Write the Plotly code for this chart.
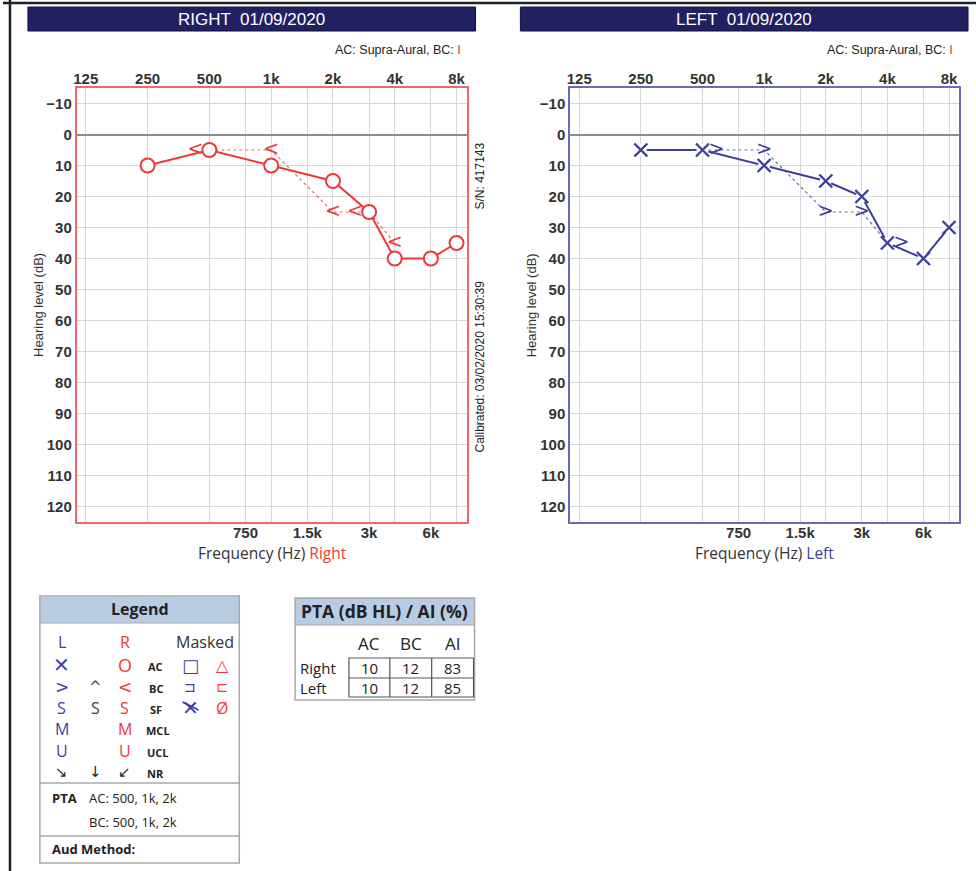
import math
import plotly.graph_objects as go

# ---------------- data ----------------
FREQ_OCT = [125, 250, 500, 1000, 2000, 4000, 8000]
FREQ_OCT_LABELS = ["125", "250", "500", "1k", "2k", "4k", "8k"]
FREQ_MID = [750, 1500, 3000, 6000]
FREQ_MID_LABELS = ["750", "1.5k", "3k", "6k"]
DB_TICKS = list(range(-10, 130, 10))

AC_FREQ = [250, 500, 1000, 2000, 3000, 4000, 6000, 8000]
RIGHT_AC = [10, 5, 10, 15, 25, 40, 40, 35]
LEFT_AC = [5, 5, 10, 15, 20, 35, 40, 30]

BC_FREQ = [500, 1000, 2000, 3000, 4000]
RIGHT_BC = [5, 5, 25, 25, 35]
LEFT_BC = [5, 5, 25, 25, 35]

PTA_COLS = ["AC", "BC", "AI"]
PTA_ROWS = ["Right", "Left"]
PTA_VALUES = [[10, 12, 83], [10, 12, 85]]

TEST_DATE = "01/09/2020"
SERIAL = "S/N: 417143"
CALIBRATED = "Calibrated: 03/02/2020 15:30:39"

# ---------------- styles ----------------
W, H = 976, 871
RED = "#ec3a3a"
RED_BORDER = "#f26868"
BLUE = "#3f3f9c"
BLUE_BORDER = "#6a6ab8"
NAVY = "#212161"
GRID = "#d6d6d6"
ZERO = "#8c8c8c"
TXT = "#333333"
HEAD_FILL = "#b8cce4"
BOX_LINE = "#a9a9a9"
TICK_FONT = dict(family="Liberation Sans, Arial", size=15, color=TXT, weight="bold")
UI = "Open Sans, Noto Sans, sans-serif"
ARIAL = "Liberation Sans, Arial"
GAP = "\u00a0"


def px(x):
    return x / W


def py(y):
    return 1 - y / H


XRANGE = [2.053, 3.952]
YRANGE = [125, -15]

fig = go.Figure()


def add_ear(n, ac, bc, color, border, bc_glyph, bc_side, xl, xr, is_x):
    xa = "x" if n == 0 else "x3"
    xt = "x2" if n == 0 else "x4"
    ya = "y" if n == 0 else "y2"
    # bone conduction dotted connection (bottom-axis subplot)
    fig.add_trace(go.Scatter(x=BC_FREQ, y=bc, mode="lines", xaxis=xa, yaxis=ya,
                             line=dict(color=color, width=1.2, dash="dot"),
                             opacity=0.75, hoverinfo="skip"))
    # bone conduction symbols; shifted aside when they coincide with the AC symbol
    ac_map = dict(zip(AC_FREQ, ac))
    shifted = [ac_map.get(f) == v for f, v in zip(BC_FREQ, bc)]
    pos = [bc_side if s else "middle center" for s in shifted]
    if bc_side == "middle left":
        txt = [bc_glyph + GAP if s else bc_glyph for s in shifted]
    else:
        txt = [GAP + bc_glyph if s else bc_glyph for s in shifted]
    fig.add_trace(go.Scatter(x=BC_FREQ, y=bc, mode="text", xaxis=xa, yaxis=ya,
                             text=txt, textposition=pos,
                             textfont=dict(family="DejaVu Sans", size=19, color=color),
                             hoverinfo="skip"))
    # air conduction (top-axis subplot, drawn above)
    fig.add_trace(go.Scatter(x=AC_FREQ, y=ac, mode="lines", xaxis=xt, yaxis=ya,
                             line=dict(color=color, width=2), hoverinfo="skip"))
    if is_x:
        fig.add_trace(go.Scatter(x=AC_FREQ, y=ac, mode="markers", xaxis=xt, yaxis=ya,
                                 marker=dict(symbol="circle", size=12, color="white",
                                             line=dict(width=0)), hoverinfo="skip"))
        fig.add_trace(go.Scatter(x=AC_FREQ, y=ac, mode="markers", xaxis=xt, yaxis=ya,
                                 marker=dict(symbol="x-thin", size=13, color=color,
                                             line=dict(width=2.4, color=color)),
                                 hoverinfo="skip"))
    else:
        fig.add_trace(go.Scatter(x=AC_FREQ, y=ac, mode="markers", xaxis=xt, yaxis=ya,
                                 marker=dict(symbol="circle", size=14, color="white",
                                             line=dict(width=2, color=color)),
                                 hoverinfo="skip"))
    # axes
    dom_x = [px(xl), px(xr)]
    dom_y = [py(522), py(88)]
    xkey = "xaxis" if n == 0 else "xaxis3"
    tkey = "xaxis2" if n == 0 else "xaxis4"
    ykey = "yaxis" if n == 0 else "yaxis2"
    fig.layout[xkey] = dict(type="log", range=XRANGE, domain=dom_x, anchor=ya,
                            tickvals=FREQ_MID, ticktext=FREQ_MID_LABELS, tickfont=TICK_FONT,
                            ticklabelstandoff=-4,
                            showgrid=True, gridcolor=GRID, gridwidth=1,
                            showline=True, linecolor=border, linewidth=2, mirror=True,
                            ticks="", zeroline=False, fixedrange=True)
    fig.layout[tkey] = dict(type="log", range=XRANGE, domain=dom_x, anchor=ya,
                            overlaying=xa, side="top",
                            tickvals=FREQ_OCT, ticktext=FREQ_OCT_LABELS, tickfont=TICK_FONT,
                            showgrid=True, gridcolor=GRID, gridwidth=1,
                            showline=False, ticks="", zeroline=False, fixedrange=True)
    fig.layout[ykey] = dict(range=YRANGE, domain=dom_y, anchor=xa,
                            tickvals=DB_TICKS, tickfont=TICK_FONT,
                            showgrid=True, gridcolor=GRID, gridwidth=1,
                            zeroline=True, zerolinecolor=ZERO, zerolinewidth=1.5,
                            showline=True, linecolor=border, linewidth=2, mirror=True,
                            ticks="", fixedrange=True)


add_ear(0, RIGHT_AC, RIGHT_BC, RED, RED_BORDER, "<", "middle left", 74, 465, False)
add_ear(1, LEFT_AC, LEFT_BC, BLUE, BLUE_BORDER, ">", "middle right", 569, 959, True)

shapes = []
ann = []


def rect(x0, y0, x1, y1, fill=None, line=None, lw=1):
    shapes.append(dict(type="rect", xref="paper", yref="paper",
                       x0=px(x0), x1=px(x1), y0=py(y1), y1=py(y0),
                       fillcolor=fill if fill else "rgba(0,0,0,0)",
                       line=dict(color=line if line else "rgba(0,0,0,0)", width=lw if line else 0),
                       layer="below" if fill else "above"))


def seg(x0, y0, x1, y1, color, w=1):
    shapes.append(dict(type="line", xref="paper", yref="paper", x0=px(x0), x1=px(x1),
                       y0=py(y0), y1=py(y1), line=dict(color=color, width=w), layer="above"))


def hline(x0, x1, y, color, w=1):
    seg(x0, y, x1, y, color, w)


def vline(x, y0, y1, color, w=1):
    seg(x, y0, x, y1, color, w)


def text(x, y, s, size=13, color=TXT, family=UI, anchor="center", angle=0, weight="normal"):
    ann.append(dict(xref="paper", yref="paper", x=px(x), y=py(y), text=s, showarrow=False,
                    xanchor=anchor, yanchor="middle", textangle=angle,
                    font=dict(family=family, size=size, color=color, weight=weight)))


# page border
hline(0, 976, 3, "#222222", 2.5)
vline(7, 0, 871, "#222222", 2.5)

# title bars
for (x0, x1, label, xs) in [(25, 474, "RIGHT", 461), (519, 968, "LEFT", 955)]:
    rect(x0, 7, x1, 31, fill=NAVY, line="#111140", lw=1)
    text((x0 + x1) / 2, 19.5, f"{label}  {TEST_DATE}", size=17, color="white", family=ARIAL)
    text(xs, 50, "AC: Supra-Aural, BC: <span style='color:#c03a3a'>I</span>",
         size=12.5, color="#222222", family=ARIAL, anchor="right")

# axis titles
text(35, 305, "Hearing level (dB)", size=13, family=ARIAL, angle=-90)
text(530, 305, "Hearing level (dB)", size=13, family=ARIAL, angle=-90)
text(270, 553, f"Frequency (Hz) <span style='color:{RED}'>Right</span>", size=15.5)
text(764, 553, f"Frequency (Hz) <span style='color:{BLUE}'>Left</span>", size=15.5)

# serial / calibration
text(478, 176, SERIAL, size=12, family=ARIAL, angle=-90, color="#222222")
text(478, 367, CALIBRATED, size=12, family=ARIAL, angle=-90, color="#222222")

# ---------------- legend box ----------------
rect(37, 597, 237, 623, fill=HEAD_FILL)
rect(37, 596, 237, 863, line=BOX_LINE, lw=1.5)
hline(37, 237, 623, BOX_LINE, 1.2)
hline(37, 237, 783, BOX_LINE, 1.5)
hline(37, 237, 836, BOX_LINE, 1.5)
text(137, 609, "Legend", size=16, color="#222222", weight="bold")

GRAY = "#444444"
DARK = "#222222"
cL, cM, cR, cT, cB, cRR = 59, 93, 122, 153, 188, 220
text(cL, 642, "L", 16, BLUE)
text(cR, 642, "R", 16, RED)
text(203, 642, "Masked", 16, "#333333")
rows = [665, 687, 708, 729, 751, 772]
text(cL, rows[0], "✕", 20, BLUE, family="DejaVu Sans")
text(cR, rows[0], "O", 18, RED)
text(cT, rows[0] + 1, "AC", 11, DARK, weight="bold")
text(cB, rows[0], "□", 18, BLUE, family="DejaVu Sans")
text(cRR, rows[0], "△", 16, RED, family="DejaVu Sans")
text(cL, rows[1], "&gt;", 17, BLUE, family="DejaVu Sans")
text(cM, rows[1], "^", 15, GRAY, family="DejaVu Sans")
text(cR, rows[1], "&lt;", 17, RED, family="DejaVu Sans")
text(cT, rows[1] + 1, "BC", 11, DARK, weight="bold")
text(cB, rows[1], "⊐", 14, BLUE, family="DejaVu Sans")
text(cRR, rows[1], "⊏", 14, RED, family="DejaVu Sans")
text(cL, rows[2], "S", 16, BLUE)
text(cM, rows[2], "S", 16, GRAY)
text(cR, rows[2], "S", 16, RED)
text(cT, rows[2] + 1, "SF", 11, DARK, weight="bold")
text(cB, rows[2], "✕", 20, BLUE, family="DejaVu Sans")
seg(cB - 8, rows[2] - 6, cB + 8, rows[2] + 2, BLUE, 1.8)
text(cRR, rows[2], "Ø", 16, RED)
text(cL, rows[3], "M", 16, BLUE)
text(cR, rows[3], "M", 16, RED)
text(cT + 2, rows[3] + 1, "MCL", 11, DARK, weight="bold")
text(cL, rows[4], "U", 16, BLUE)
text(cR, rows[4], "U", 16, RED)
text(cT + 2, rows[4] + 1, "UCL", 11, DARK, weight="bold")
text(cL, rows[5], "↘", 15, DARK, family="DejaVu Sans")
text(cM, rows[5], "↓", 15, DARK, family="DejaVu Sans")
text(cR, rows[5], "↙", 15, DARK, family="DejaVu Sans")
text(cT, rows[5] + 1, "NR", 11, DARK, weight="bold")

text(47, 798, "PTA", 13, DARK, anchor="left", weight="bold")
text(84, 798, "AC: 500, 1k, 2k", 13, DARK, anchor="left")
text(84, 822, "BC: 500, 1k, 2k", 13, DARK, anchor="left")
text(47, 849, "Aud Method:", 13, DARK, anchor="left", weight="bold")

# ---------------- PTA table ----------------
rect(293, 598, 473, 625, fill=HEAD_FILL)
rect(293, 598, 473, 700, line=BOX_LINE, lw=1.5)
hline(293, 473, 625, BOX_LINE, 1.2)
text(383, 611, "PTA (dB HL) / AI (%)", 17.5, DARK, weight="bold")
col_edges = [347, 388, 430, 472]
row_edges = [658, 678, 697]
rect(col_edges[0], row_edges[0], col_edges[-1], row_edges[-1], line="#555555", lw=1.2)
for cx in col_edges[1:-1]:
    vline(cx, row_edges[0], row_edges[-1], "#555555", 1.2)
hline(col_edges[0], col_edges[-1], row_edges[1], "#555555", 1.2)
for j, c in enumerate(PTA_COLS):
    text((col_edges[j] + col_edges[j + 1]) / 2, 643, c, 17, DARK)
for i, r in enumerate(PTA_ROWS):
    yc = (row_edges[i] + row_edges[i + 1]) / 2
    text(296, yc, r, 15, DARK, anchor="left")
    for j, v in enumerate(PTA_VALUES[i]):
        text((col_edges[j] + col_edges[j + 1]) / 2, yc, str(v), 15, DARK)

fig.update_layout(width=W, height=H, margin=dict(l=0, r=0, t=0, b=0),
                  paper_bgcolor="white", plot_bgcolor="white", showlegend=False,
                  shapes=shapes, annotations=ann)

fig.write_html("out.html", config={"displayModeBar": False},
               post_script="document.body.style.margin='0px';")
